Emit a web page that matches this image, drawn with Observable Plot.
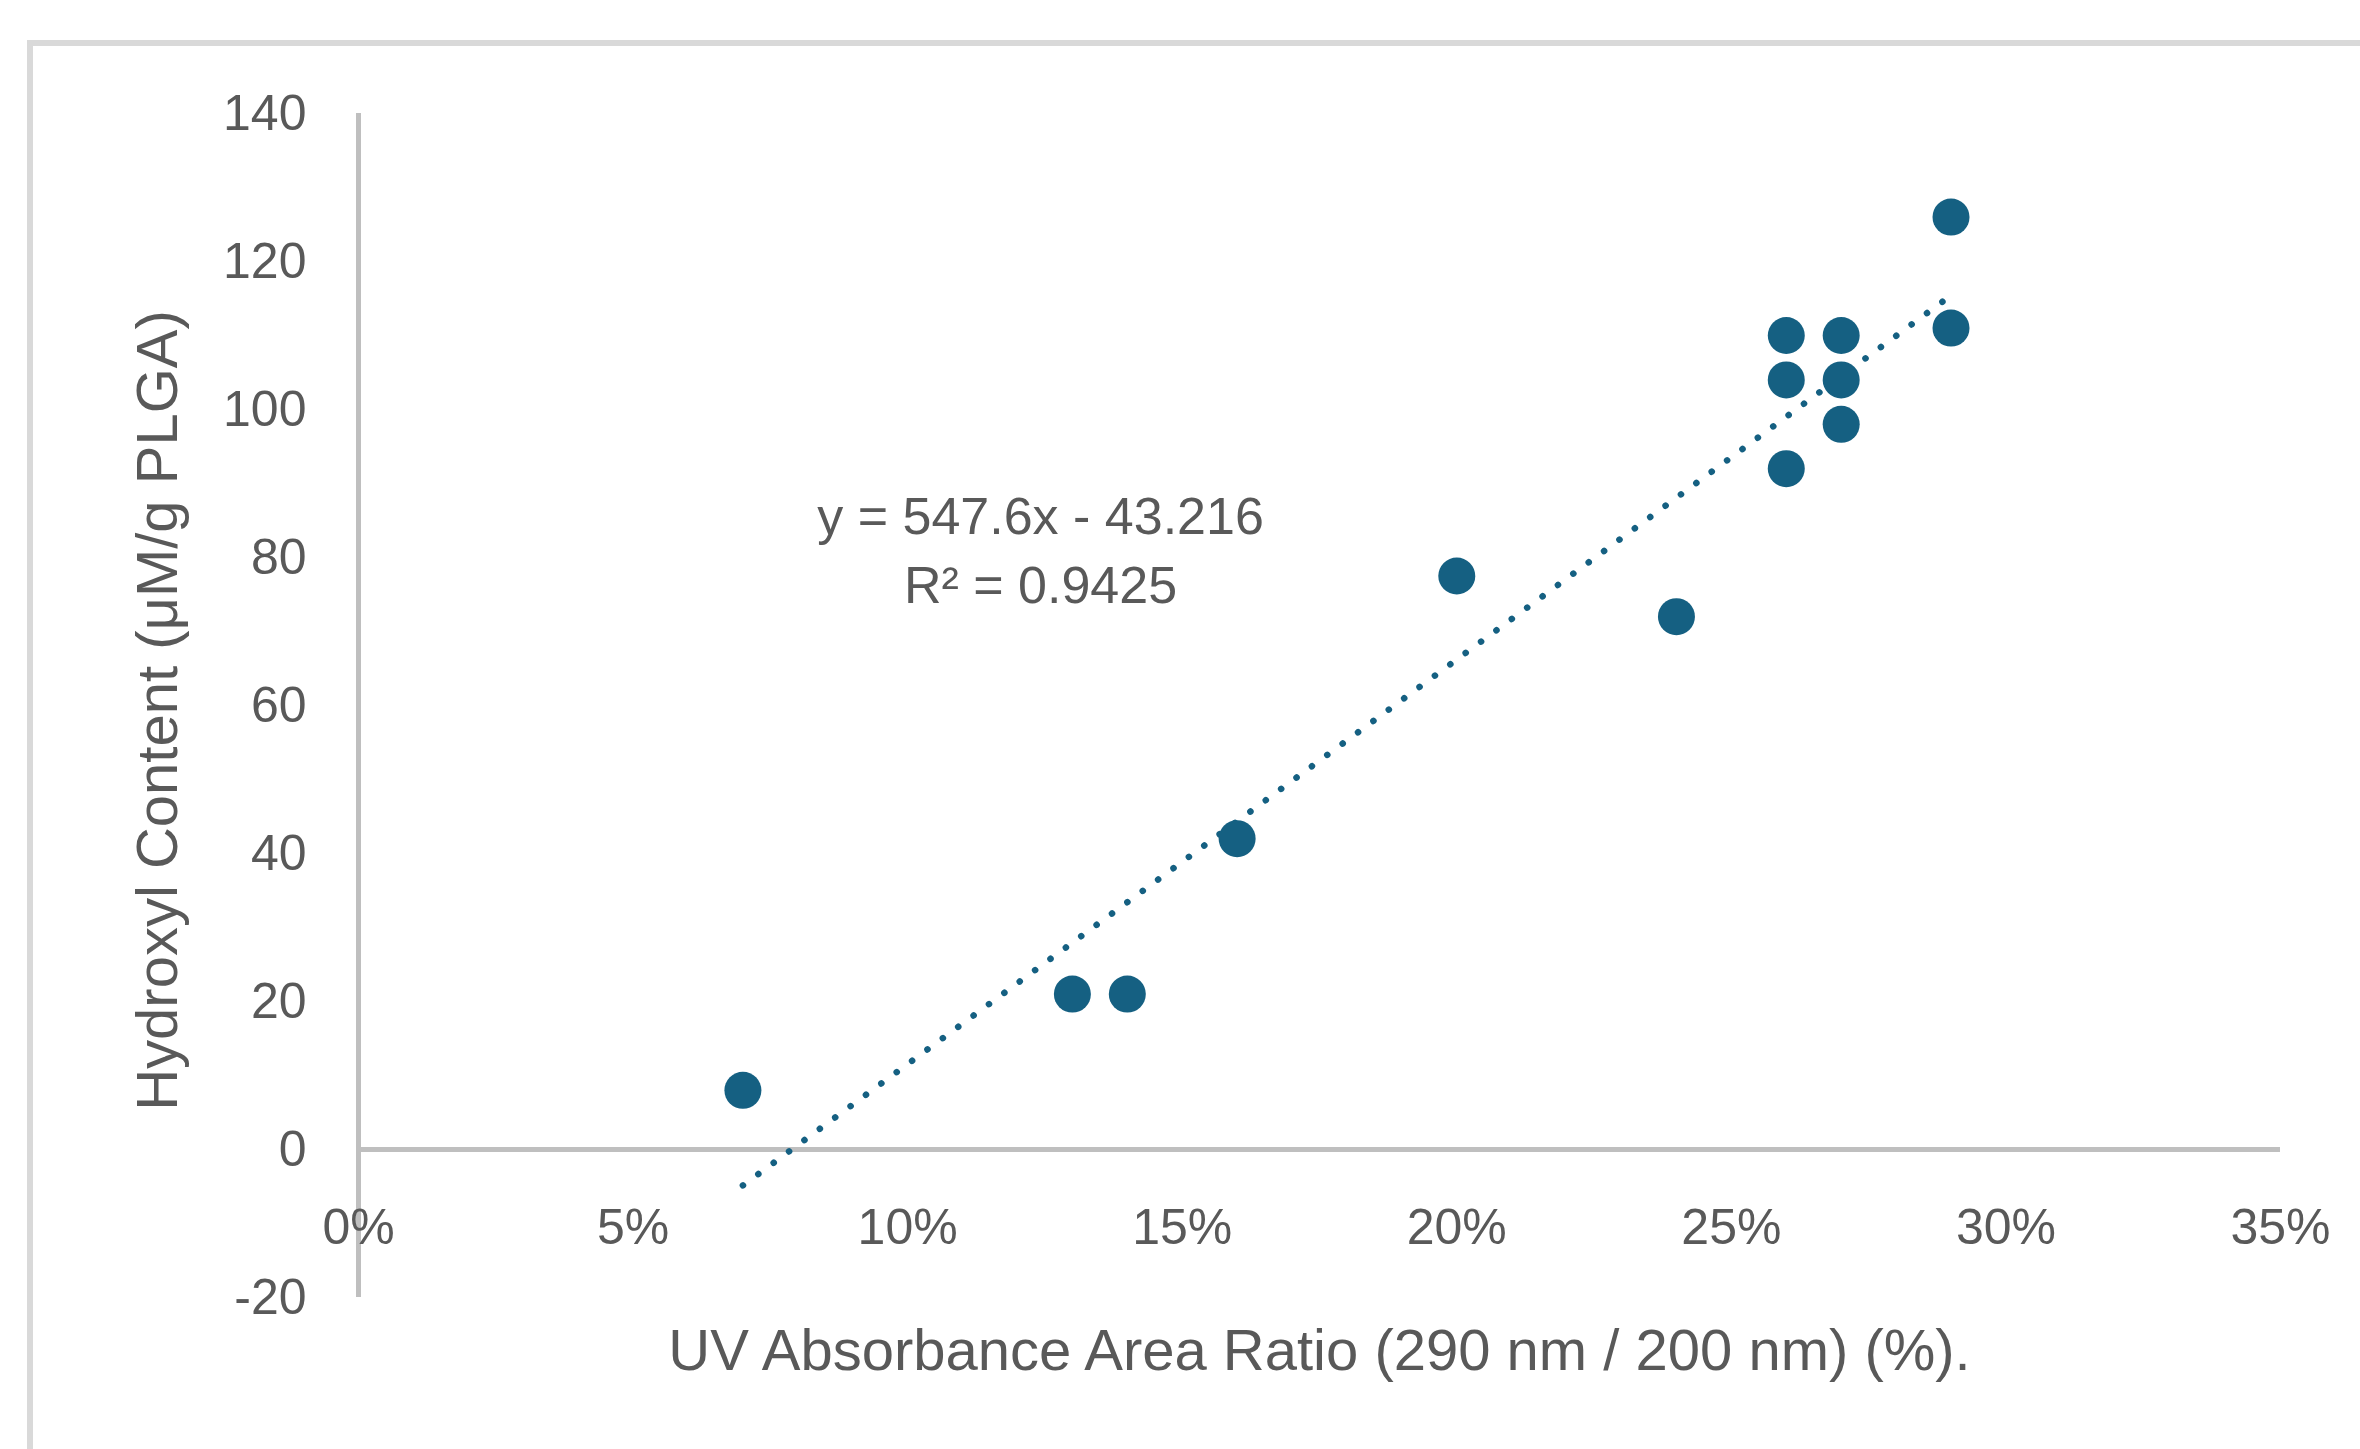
<!DOCTYPE html>
<html>
<head>
<meta charset="utf-8">
<script src="https://cdn.jsdelivr.net/npm/d3@7"></script>
<script src="https://cdn.jsdelivr.net/npm/@observablehq/plot@0.6"></script>
<style>
  html, body { margin: 0; padding: 0; background: #ffffff; overflow: hidden; }
  #wrap { position: relative; width: 2360px; height: 1449px; }
  #frame { position: absolute; left: 27px; top: 40px; width: 2400px; height: 1500px; border: 6px solid #d9d9d9; box-sizing: border-box; }
  #chart { position: absolute; left: 0; top: 0; }
</style>
</head>
<body>
<div id="wrap">
  <div id="frame"></div>
  <div id="chart"></div>
</div>
<script>
// ---- data ----
const uvRatio  = [0.07, 0.13, 0.14, 0.16, 0.20, 0.24, 0.26, 0.26, 0.26, 0.27, 0.27, 0.27, 0.29, 0.29];
const hydroxyl = [8, 21, 21, 42, 77.5, 72, 110, 104, 92, 110, 104, 98, 126, 111];
const xTicks = [0, 0.05, 0.10, 0.15, 0.20, 0.25, 0.30, 0.35];
const yTicks = [-20, 0, 20, 40, 60, 80, 100, 120, 140];
const xTitle = "UV Absorbance Area Ratio (290 nm / 200 nm) (%).";
const yTitle = "Hydroxyl Content (μM/g PLGA)";
const equationLines = ["y = 547.6x - 43.216", "R² = 0.9425"];
const equationAnchor = {x: 0.1242, y: 81.5};

const points = uvRatio.map((x, i) => ({x, y: hydroxyl[i]}));
const pct = d3.format(".0%");
const accent = "#156082";
const textColor = "#595959";
const axisColor = "#bfbfbf";

const chart = Plot.plot({
  width: 2360,
  height: 1449,
  marginLeft: 358,
  marginRight: 80,
  marginTop: 113,
  marginBottom: 152,
  x: {domain: [0, 0.35], axis: null},
  y: {domain: [-20, 140]},
  style: {fontFamily: "'Liberation Sans', Arial, sans-serif", color: textColor, background: "transparent", overflow: "visible"},
  marks: [
    Plot.ruleX([0], {stroke: axisColor, strokeWidth: 5}),
    Plot.ruleY([0], {stroke: axisColor, strokeWidth: 5}),
    Plot.axisY(yTicks, {tickSize: 0, tickPadding: 52, fontSize: 50, fill: textColor, label: null, tickFormat: d => String(d)}),
    Plot.text(xTicks, {x: d => d, y: 0, dy: 78, text: d => pct(d), fontSize: 50, fill: textColor}),
    Plot.linearRegressionY(points, {x: "x", y: "y", ci: 0, stroke: accent, strokeWidth: 6.5, strokeDasharray: "0.1 19", strokeLinecap: "round"}),
    Plot.dot(points, {x: "x", y: "y", r: 18.5, fill: accent, stroke: "none"}),
    Plot.text([equationLines.join("\n")], {x: () => equationAnchor.x, y: () => equationAnchor.y, text: d => d, fontSize: 52, lineHeight: 1.32, fill: textColor, textAnchor: "middle", lineAnchor: "middle"}),
    Plot.text([yTitle], {frameAnchor: "left", rotate: -90, dx: -200, dy: 5, text: d => d, fontSize: 58, fill: textColor, textAnchor: "middle", lineAnchor: "middle"}),
    Plot.text([xTitle], {frameAnchor: "bottom", dy: 54, text: d => d, fontSize: 58, fill: textColor, textAnchor: "middle", lineAnchor: "middle"})
  ]
});
document.getElementById("chart").appendChild(chart);
</script>
</body>
</html>
